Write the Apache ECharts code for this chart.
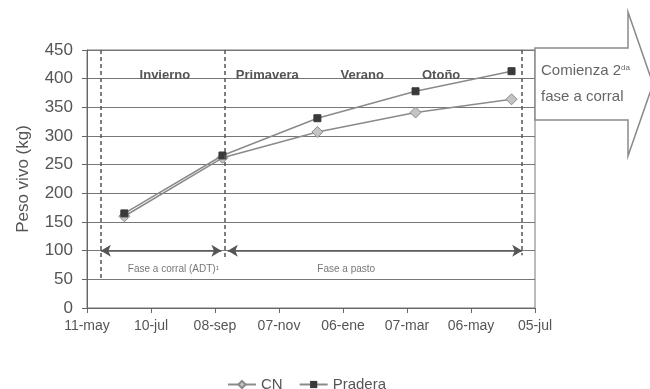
<!DOCTYPE html>
<html>
<head>
<meta charset="utf-8">
<script src="https://cdn.jsdelivr.net/npm/echarts@6/dist/echarts.min.js"></script>
<style>
  html, body { margin: 0; padding: 0; background: #fff; }
  #chart { width: 650px; height: 389px; }
</style>
</head>
<body>
<div id="chart"></div>
<script>
// Days counted from 11-may; ticks every 60 days
const tickLabels = ['11-may', '10-jul', '08-sep', '07-nov', '06-ene', '07-mar', '06-may', '05-jul'];
const sampleDays = [35, 127, 216, 308, 398];
const cnWeights = [160, 262, 307, 341, 364];
const praderaWeights = [165, 266, 331, 378, 413];

// Phase boundaries (days) and season headings
const phaseDays = [13, 129, 408];
const phaseLineBottoms = [52, 85, 92];
const seasonNames = ['Invierno', 'Primavera', 'Verano', 'Otoño'];
const seasonDays = [73, 169, 258, 332];
const phaseNames = ['Fase a corral (ADT)\u00b9', 'Fase a pasto'];
const phaseLabelDays = [81, 243];

const pairs = (xs, ys) => xs.map((x, i) => [x, ys[i]]);

const chart = echarts.init(document.getElementById('chart'), null, { renderer: 'canvas' });

const dashedLines = phaseDays.map((d, i) => [
  { coord: [d, 450] },
  { coord: [d, phaseLineBottoms[i]] }
]);
const spanArrows = [
  [{ coord: [phaseDays[0], 100] }, { coord: [126, 100] }],
  [{ coord: [132, 100] }, { coord: [phaseDays[2], 100] }]
];

chart.setOption({
  animation: false,
  backgroundColor: '#fff',
  textStyle: { fontFamily: 'Liberation Sans, Arial, sans-serif' },
  grid: {
    left: 87, right: 115, top: 50, bottom: 81,
    show: true, borderColor: '#777', borderWidth: 1, backgroundColor: 'transparent'
  },
  legend: {
    data: ['CN', 'Pradera'],
    left: 222, top: 372,
    itemWidth: 28, itemHeight: 9, itemGap: 16,
    textStyle: { fontSize: 15, color: '#555' }
  },
  xAxis: {
    type: 'value', min: 0, max: 420, interval: 60,
    axisLine: { lineStyle: { color: '#666', width: 1 } },
    axisTick: { show: true, inside: false, length: 5, lineStyle: { color: '#666' } },
    axisLabel: {
      fontSize: 14, color: '#555', margin: 11,
      formatter: v => tickLabels[Math.round(v / 60)] || ''
    },
    splitLine: { show: false }
  },
  yAxis: {
    type: 'value', min: 0, max: 450, interval: 50,
    name: 'Peso vivo (kg)', nameLocation: 'middle', nameGap: 55, nameRotate: 90,
    nameTextStyle: { fontSize: 17, color: '#555' },
    axisLine: { show: true, lineStyle: { color: '#666', width: 1 } },
    axisTick: { show: true, inside: false, length: 5, lineStyle: { color: '#666' } },
    axisLabel: { fontSize: 17, color: '#555', margin: 14 },
    splitLine: { show: true, lineStyle: { color: '#777', width: 1 } }
  },
  series: [
    {
      name: 'CN', type: 'line', data: pairs(sampleDays, cnWeights),
      symbol: 'diamond', symbolSize: 11, z: 3,
      lineStyle: { color: '#8a8a8a', width: 1.5 },
      itemStyle: { color: '#c4c4c4', borderColor: '#8a8a8a', borderWidth: 1 }
    },
    {
      name: 'Pradera', type: 'line', data: pairs(sampleDays, praderaWeights),
      symbol: 'rect', symbolSize: 7, z: 4,
      lineStyle: { color: '#8a8a8a', width: 1.5 },
      itemStyle: { color: '#3a3a3a', borderColor: '#3a3a3a' }
    },
    {
      name: 'fases', type: 'line', data: [], silent: true,
      markLine: {
        silent: true, animation: false,
        symbol: ['none', 'none'],
        label: { show: false },
        data: dashedLines,
        lineStyle: { color: '#555', type: [4, 3], width: 1.5 }
      }
    },
    {
      name: 'periodos', type: 'line', data: [], silent: true,
      markLine: {
        silent: true, animation: false,
        symbol: ['arrow', 'arrow'], symbolSize: [9, 10],
        label: { show: false },
        data: spanArrows,
        lineStyle: { color: '#555', type: 'solid', width: 1.5 },
        itemStyle: { color: '#333' }
      }
    }
  ]
});

// Text headings and the "next phase" arrow, positioned from the axes
const toPx = (d, v) => chart.convertToPixel({ gridIndex: 0 }, [d, v]);
const graphics = [];
seasonNames.forEach((name, i) => {
  const p = toPx(seasonDays[i], 405);
  graphics.push({
    type: 'text', x: p[0], y: p[1],
    style: { text: name, fontSize: 13, fontWeight: 'bold', fill: '#555',
             align: 'center', verticalAlign: 'middle', fontFamily: 'Liberation Sans, Arial, sans-serif' }
  });
});
phaseNames.forEach((name, i) => {
  const p = toPx(phaseLabelDays[i], 68);
  graphics.push({
    type: 'text', x: p[0], y: p[1],
    style: { text: name, fontSize: 10, fill: '#777',
             align: 'center', verticalAlign: 'middle', fontFamily: 'Liberation Sans, Arial, sans-serif' }
  });
});

const right = toPx(420, 450);
graphics.push({
  type: 'polygon', z: 10,
  shape: { points: [[right[0], 48], [628, 48], [628, 12], [653, 84], [628, 156], [628, 120], [right[0], 120]] },
  style: { fill: '#fff', stroke: '#8a8a8a', lineWidth: 1.5 }
});
graphics.push({
  type: 'text', z: 11, x: right[0] + 6, y: 58,
  style: {
    text: '{a|Comienza 2}{s|da}\n{a|fase a corral}',
    fontFamily: 'Liberation Sans, Arial, sans-serif',
    rich: {
      a: { fontSize: 15, fill: '#666', lineHeight: 26 },
      s: { fontSize: 8, fill: '#666', lineHeight: 26, padding: [0, 0, 6, 0] }
    }
  }
});
chart.setOption({ graphic: graphics });
</script>
</body>
</html>
